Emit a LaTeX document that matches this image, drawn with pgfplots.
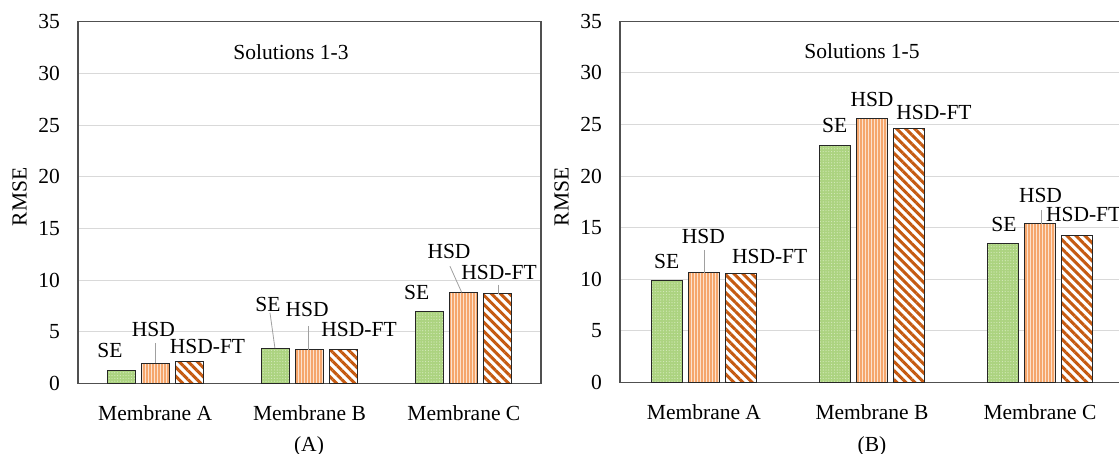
\documentclass[border=0pt]{standalone}
\usepackage{pgfplots}
\pgfplotsset{compat=1.18}
\usepackage{fontspec}
\setmainfont{Liberation Serif}
\usetikzlibrary{patterns.meta}
\definecolor{segreen}{RGB}{172,211,128}
\definecolor{sedot}{RGB}{215,235,190}
\definecolor{hsdbg}{RGB}{252,226,206}
\definecolor{hsdline}{RGB}{245,166,108}
\definecolor{ftline}{RGB}{197,90,17}
\definecolor{axgray}{RGB}{80,80,80}
\definecolor{gridgray}{RGB}{217,217,217}
\definecolor{leader}{RGB}{160,160,160}
\newcommand\myfont{\fontsize{10.75pt}{13pt}\selectfont}

\tikzset{
  lbl/.style={font=\myfont, inner sep=0pt, anchor=center},
  ld/.style={leader, line width=0.4pt},
}
\pgfplotsset{
  myax/.style={
    scale only axis, xmin=-0.5, xmax=2.5, ymin=0, ymax=35,
    ytick={0,5,...,35}, xtick={0,1,2},
    xticklabels={Membrane A,Membrane B,Membrane C},
    major tick length=0pt, ymajorgrids,
    grid style={gridgray, line width=0.5pt},
    axis line style={axgray, line width=0.75pt},
    /pgf/number format/assume math mode=true,
    tick label style={font=\myfont},
    yticklabel style={xshift=-5.5pt},
    xticklabel style={yshift=-7.5pt},
    clip=false,
  },
  se/.style={ybar, bar width=0.18, bar shift=-0.22, draw=black!85, line width=0.5pt,
    fill=segreen, postaction={pattern={Dots[distance=1.4pt,radius=0.3pt]}, pattern color=sedot}},
  hsd/.style={ybar, bar width=0.18, bar shift=0, draw=black!85, line width=0.5pt,
    fill=hsdbg, postaction={pattern={Lines[angle=90,distance=1.5pt,line width=0.55pt]}, pattern color=hsdline}},
  ft/.style={ybar, bar width=0.18, bar shift=0.22, draw=black!85, line width=0.5pt,
    fill=white, postaction={pattern={Lines[angle=-45,distance=3.2pt,line width=1.5pt]}, pattern color=ftline}},
}

\pgfplotstableread{
x se hsd ft
0 1.32 1.98 2.10
1 3.44 3.27 3.27
2 6.96 8.83 8.71
}\tabA
\pgfplotstableread{
x se hsd ft
0 9.86 10.64 10.51
1 23.00 25.60 24.56
2 13.43 15.37 14.20
}\tabB

\begin{document}
\begin{tikzpicture}
\begin{scope}
\clip (0pt,0pt) rectangle (559.5pt,-227pt);
% Left axis
\begin{axis}[myax, at={(39pt,-191.85pt)}, anchor=south west,
  width=231.5pt, height=181pt]
\addplot[se] table[x=x,y=se]{\tabA};
\addplot[hsd] table[x=x,y=hsd]{\tabA};
\addplot[ft] table[x=x,y=ft]{\tabA};
\node[lbl] at (axis cs:-0.293,3.2) {SE};
\node[lbl] at (axis cs:-0.012,5.21) {HSD};
\draw[ld] (axis cs:0,3.95) -- (axis cs:0,2.0);
\node[lbl] at (axis cs:0.339,3.59) {HSD-FT};
\node[lbl] at (axis cs:0.731,7.64) {SE};
\draw[ld] (axis cs:0.744,6.86) -- (axis cs:0.776,3.44);
\node[lbl] at (axis cs:0.984,7.22) {HSD};
\draw[ld] (axis cs:0.992,5.6) -- (axis cs:0.992,3.27);
\node[lbl] at (axis cs:1.321,5.21) {HSD-FT};
\node[lbl] at (axis cs:1.695,8.83) {SE};
\node[lbl] at (axis cs:1.904,12.82) {HSD};
\draw[ld] (axis cs:1.91,11.36) -- (axis cs:1.986,8.83);
\node[lbl] at (axis cs:2.228,10.75) {HSD-FT};
\draw[ld] (axis cs:2.221,9.58) -- (axis cs:2.221,8.71);
\end{axis}
% Right axis
\begin{axis}[myax, at={(310pt,-191.15pt)}, anchor=south west,
  width=252pt, height=180.5pt]
\addplot[se] table[x=x,y=se]{\tabB};
\addplot[hsd] table[x=x,y=hsd]{\tabB};
\addplot[ft] table[x=x,y=ft]{\tabB};
\node[lbl] at (axis cs:-0.222,11.71) {SE};
\node[lbl] at (axis cs:-0.004,14.14) {HSD};
\draw[ld] (axis cs:0,12.84) -- (axis cs:0,10.64);
\node[lbl] at (axis cs:0.391,12.19) {HSD-FT};
\node[lbl] at (axis cs:0.778,24.88) {SE};
\node[lbl] at (axis cs:1.0,27.41) {HSD};
\node[lbl] at (axis cs:1.369,26.12) {HSD-FT};
\node[lbl] at (axis cs:1.785,15.27) {SE};
\node[lbl] at (axis cs:2.003,18.09) {HSD};
\draw[ld] (axis cs:2.01,16.66) -- (axis cs:2.01,15.37);
\node[lbl] at (axis cs:2.26,16.24) {HSD-FT};
\end{axis}
\end{scope}
% outer texts (pixel coordinates: 1px = 0.5pt, y downward)
\begin{scope}[x=0.5pt, y=-0.5pt]
\node[lbl] at (291,51.7) {Solutions 1-3};
\node[lbl] at (862,51.5) {Solutions 1-5};
\node[lbl, rotate=90] at (19.7,197) {RMSE};
\node[lbl, rotate=90] at (561.7,197) {RMSE};
\node[lbl] at (309,446) {(A)};
\node[lbl] at (872,446) {(B)};
\end{scope}
\pgfresetboundingbox
\useasboundingbox (0pt,0pt) rectangle (559.5pt,-227pt);
\end{tikzpicture}
\end{document}
